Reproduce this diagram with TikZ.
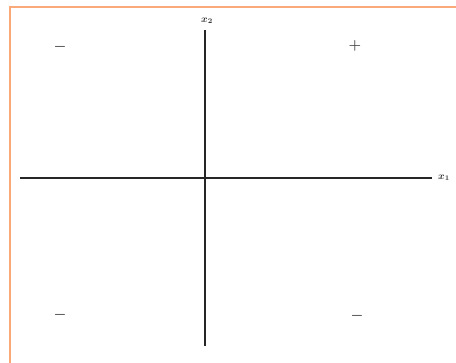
\documentclass[tikz,border=0pt]{standalone}
\begin{document}
\begin{tikzpicture}[x=1pt,y=-1pt,
  axis/.style={line width=2pt,black!85},
  sign/.style={font=\fontsize{14}{16}\selectfont\boldmath,inner sep=0pt,text=black!75},
  lbl/.style={font=\normalsize\boldmath,inner sep=0pt,text=black!80}]
\useasboundingbox (0,0) rectangle (456,363);
\clip (0,0) rectangle (456,363);
\definecolor{frameorange}{RGB}{250,170,120}
\draw[frameorange,line width=1.6pt] (10,7) rectangle (470,375);
\coordinate (L) at (20,178);
\coordinate (R) at (432,178);
\coordinate (B) at (205,346);
\coordinate (T) at (205,30);
\draw[axis] (L) -- (R);
\draw[axis] (B) -- (T);
\node[lbl] (x1) at (444,178) {$x_1$};
\node[lbl] (x2) at (207,21) {$x_2$};
\node[sign] (s1) at (60,47) {$-$};
\node[sign] (s2) at (355,46) {$+$};
\node[sign] (s3) at (60,315) {$-$};
\node[sign] (s4) at (357,316) {$-$};
\end{tikzpicture}
\end{document}
